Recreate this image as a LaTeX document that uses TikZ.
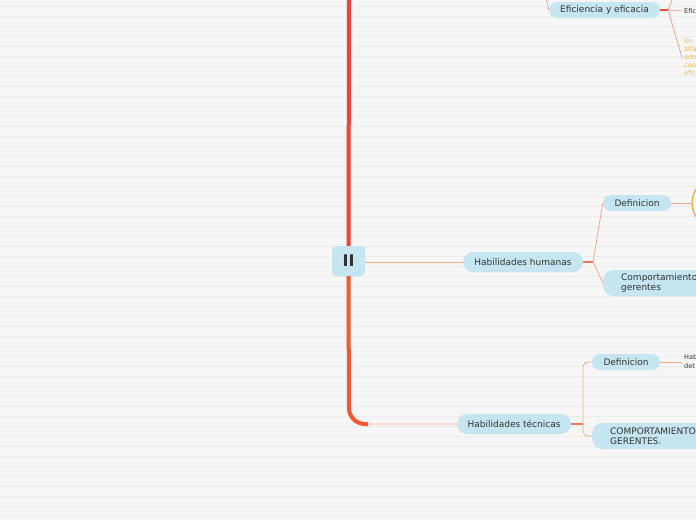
\documentclass[tikz,border=0pt]{standalone}
\usepackage{fontspec}
\setmainfont{DejaVu Sans}
\definecolor{bg}{HTML}{F6F6F6}
\definecolor{rulec}{HTML}{EBEBEB}
\definecolor{nodeblue}{HTML}{C5E5F0}
\definecolor{txt}{HTML}{333333}
\definecolor{salmon}{HTML}{F7A88C}
\definecolor{strongor}{HTML}{F37650}
\definecolor{pinkc}{HTML}{F4A0A0}
\definecolor{redstr}{HTML}{E94B3C}
\definecolor{trunkred}{HTML}{EE4337}
\definecolor{trunkor}{HTML}{F15A2E}
\definecolor{orcirc}{HTML}{F5A623}
\definecolor{ortxt}{HTML}{F5B440}
\begin{document}
\begin{tikzpicture}[x=1pt,y=-1pt,
  pill/.style={fill=nodeblue, text=txt, inner sep=0pt, font=\fontsize{9}{10}\selectfont},
  widepill/.style={pill, anchor=west, align=left, text width=130pt, inner xsep=18pt, inner ysep=0pt, minimum height=26pt, rounded corners=10pt},
  smalltxt/.style={text=txt, inner xsep=2pt, inner ysep=0pt, anchor=west, align=left, font=\fontsize{6.5}{8}\selectfont},
  conn/.style={draw=salmon, line width=0.8pt},
  connstrong/.style={draw=strongor, line width=1.3pt},
  pinkconn/.style={draw=pinkc, line width=0.8pt},
  redconn/.style={draw=redstr, line width=1.5pt}]
\useasboundingbox (0,0) rectangle (696,520);
\clip (0,0) rectangle (696,520);
\fill[bg] (0,0) rectangle (696,520);
\foreach \k in {0,...,51} \draw[rulec, line width=1pt] (0,{6+10*\k}) -- (696,{6+10*\k});

% nodes
\node[pill, minimum width=33pt, minimum height=30pt, rounded corners=4pt,
      font=\fontsize{16}{16}\bfseries\selectfont] (II) at (348.5,261) {II};
\node[pill, minimum width=111pt, minimum height=16pt, rounded corners=8pt] (eff) at (604.5,10) {Eficiencia y eficacia};
\node[pill, minimum width=120pt, minimum height=20pt, rounded corners=10pt] (HH) at (523,262) {Habilidades humanas};
\node[pill, minimum width=68pt, minimum height=16pt, rounded corners=8pt] (def1) at (637,203) {Definicion};
\node[widepill] (comp1) at (603,283) {Comportamiento\\gerentes};
\node[pill, minimum width=114pt, minimum height=20pt, rounded corners=10pt] (HT) at (514,424) {Habilidades técnicas};
\node[pill, minimum width=68pt, minimum height=16pt, rounded corners=8pt] (def2) at (626,362) {Definicion};
\node[widepill] (comp2) at (592,436) {COMPORTAMIENTO\\GERENTES.};
\node[circle, draw=orcirc, line width=1.2pt, fill=bg, minimum size=50pt, inner sep=0pt] (circ) at (717,203) {};
\node[smalltxt] (efic) at (682,11) {Efic};
\node[smalltxt, text=ortxt] (ortx) at (682,57.5) {En\\alta\\adm\\con\\efic};
\node[smalltxt, font=\fontsize{6.5}{9}\selectfont] (hab) at (682,362) {Hab\\det};

% trunk
\coordinate (ttop) at (349,0);
\draw[trunkred, line width=4pt] (ttop) -- (II.north);
\draw[conn, rounded corners=16pt] (II.south) |- (HT.west);
\draw[trunkor, line width=4pt, rounded corners=16pt] (II.south) -- (349,424) -- (368,424);

% humanas
\draw[conn] (II.east |- HH.west) -- (HH.west);
\coordinate (jh) at (593,262);
\draw[connstrong] (HH.east) -- (jh);
\draw[conn] (jh) -- (def1.west);
\draw[conn] (jh) -- (comp1.west);
\draw[conn] (def1.east) -- (circ.west);

% tecnicas
\coordinate (jt) at (583,424);
\draw[connstrong] (HT.east) -- (jt);
\draw[conn, rounded corners=5pt] (jt) |- (def2.west);
\draw[conn, rounded corners=5pt] (jt) |- (comp2.west);
\draw[conn] (def2.east) -- (hab.west);

% eficiencia
\coordinate (up0) at (546.5,0);
\draw[pinkconn] (up0) .. controls (547.5,5) .. (eff.west);
\coordinate (je) at (668,10);
\draw[redconn] (eff.east) -- (je);
\coordinate (up1) at (672,0);
\draw[pinkconn] (je) -- (up1);
\draw[pinkconn] (je) -- (efic.west);
\draw[pinkconn] (je) -- (ortx.west);
\end{tikzpicture}
\end{document}
